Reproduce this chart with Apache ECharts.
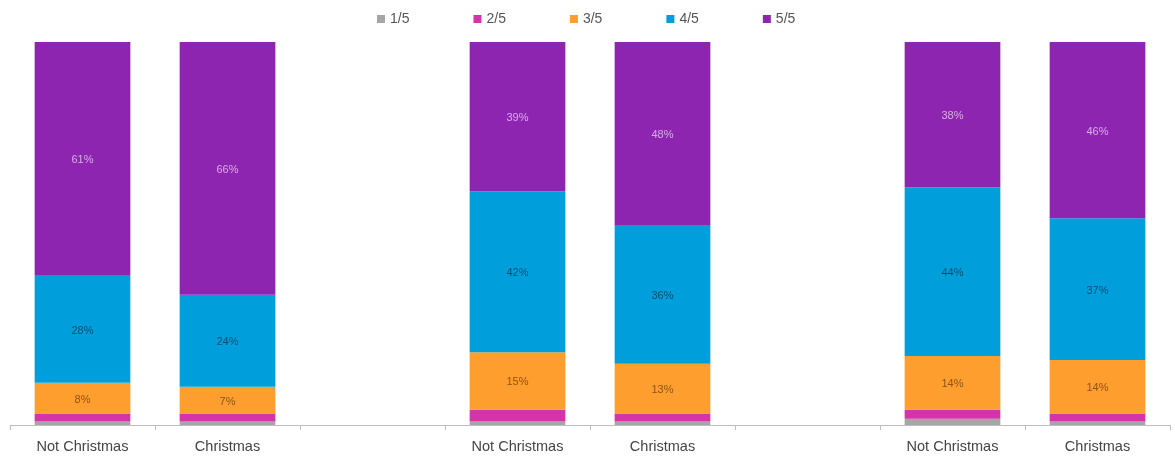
<!DOCTYPE html>
<html>
<head>
<meta charset="utf-8">
<script src="https://cdn.jsdelivr.net/npm/echarts@6/dist/echarts.min.js"></script>
<style>
  html, body { margin: 0; padding: 0; background: #fff; }
  #chart { width: 1175px; height: 457px; }
</style>
</head>
<body>
<div id="chart"></div>
<script>
// Three groups of rating distributions, each split into Not Christmas / Christmas,
// with an empty slot between groups.
const categories = ['Not Christmas', 'Christmas', '', 'Not Christmas', 'Christmas', '', 'Not Christmas', 'Christmas'];
const ratingNames = ['1/5', '2/5', '3/5', '4/5', '5/5'];

const rating1 = [0.9, 0.9, null, 0.9, 0.9, null, 1.6, 0.9];
const rating2 = [2.1, 2.1, null, 3.1, 2.1, null, 2.4, 2.1];
const rating3 = [8, 7, null, 15, 13, null, 14, 14];
const rating4 = [28, 24, null, 42, 36, null, 44, 37];
const rating5 = [61, 66, null, 39, 48, null, 38, 46];

const colors = ['#a6a6a6', '#d633a9', '#fd9e2e', '#009fdb', '#8e25b1'];
const seriesValues = [rating1, rating2, rating3, rating4, rating5];
const labelColors = [null, null, 'rgba(60,30,0,0.6)', 'rgba(0,20,40,0.6)', 'rgba(255,255,255,0.62)'];

const font = '"Liberation Sans", Arial, sans-serif';

const series = ratingNames.map((name, i) => ({
  name: name,
  type: 'bar',
  stack: 'total',
  barCategoryGap: '34%',
  data: seriesValues[i],
  itemStyle: { color: colors[i] },
  label: {
    show: labelColors[i] !== null,
    position: 'inside',
    offset: [0, 1.5],
    formatter: p => p.value + '%',
    color: labelColors[i] || '#000',
    fontSize: 11,
    fontFamily: font
  }
}));

const chart = echarts.init(document.getElementById('chart'), null, { renderer: 'canvas' });
chart.setOption({
  animation: false,
  color: colors,
  legend: {
    data: ratingNames,
    left: 372,
    top: 7,
    icon: 'rect',
    itemWidth: 8,
    itemHeight: 8,
    itemGap: 64,
    textStyle: { fontSize: 14, color: '#555', fontFamily: font }
  },
  grid: { left: 10, right: 5, top: 42, bottom: 32, containLabel: false },
  xAxis: {
    type: 'category',
    data: categories,
    axisLine: { lineStyle: { color: '#bdbdbd', width: 1 } },
    axisTick: { show: true, length: 5, lineStyle: { color: '#bdbdbd' } },
    axisLabel: { interval: 0, fontSize: 14.5, color: '#444', margin: 14, fontFamily: font }
  },
  yAxis: {
    type: 'value',
    min: 0,
    max: 100,
    show: false
  },
  series: series
});
</script>
</body>
</html>
